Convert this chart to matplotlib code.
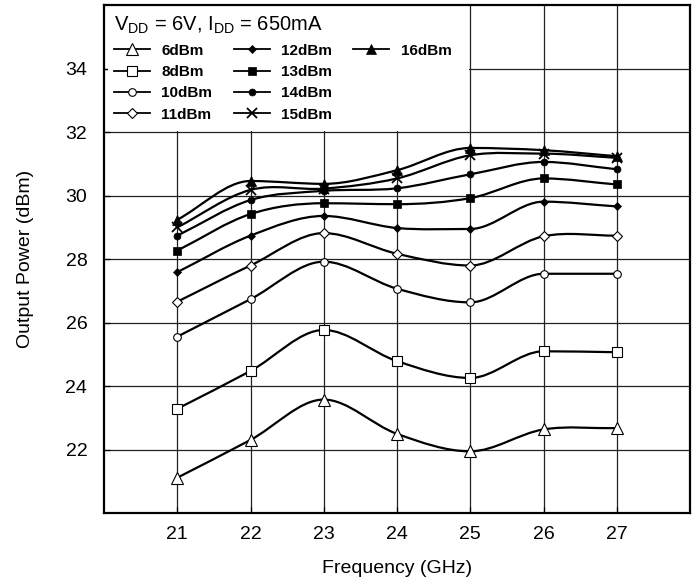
import matplotlib
matplotlib.use('Agg')
import matplotlib.pyplot as plt
import numpy as np
from matplotlib.lines import Line2D
from matplotlib.patches import Rectangle, PathPatch
from matplotlib.path import Path

plt.rcParams['font.family'] = ['Liberation Sans', 'DejaVu Sans']
plt.rcParams['mathtext.fontset'] = 'custom'
plt.rcParams['mathtext.rm'] = 'Liberation Sans'

freq = [21, 22, 23, 24, 25, 26, 27]

p6 = [21.12, 22.31, 23.58, 22.50, 21.95, 22.64, 22.68]
p8 = [23.29, 24.48, 25.77, 24.79, 24.26, 25.10, 25.07]
p10 = [25.56, 26.74, 27.92, 27.07, 26.64, 27.54, 27.54]
p11 = [26.66, 27.80, 28.82, 28.17, 27.80, 28.72, 28.74]
p12 = [27.59, 28.74, 29.36, 28.98, 28.95, 29.81, 29.66]
p13 = [28.27, 29.42, 29.76, 29.73, 29.92, 30.54, 30.35]
p14 = [28.74, 29.86, 30.15, 30.23, 30.67, 31.06, 30.83]
p15 = [29.00, 30.18, 30.22, 30.54, 31.27, 31.32, 31.19]
p16 = [29.24, 30.46, 30.37, 30.80, 31.50, 31.43, 31.24]

series = [
    ('6dBm', p6, dict(marker='^', ms=8.5, mfc='white', mec='black', mew=0.8)),
    ('8dBm', p8, dict(marker='s', ms=6.5, mfc='white', mec='black', mew=0.8)),
    ('10dBm', p10, dict(marker='o', ms=5.5, mfc='white', mec='black', mew=0.8)),
    ('11dBm', p11, dict(marker='D', ms=5.5, mfc='white', mec='black', mew=0.8)),
    ('12dBm', p12, dict(marker='D', ms=4.5, mfc='black', mec='black', mew=0.5)),
    ('13dBm', p13, dict(marker='s', ms=6, mfc='black', mec='black', mew=0.5)),
    ('14dBm', p14, dict(marker='o', ms=5, mfc='black', mec='black', mew=0.5)),
    ('15dBm', p15, dict(marker='x', ms=7, mfc='black', mec='black', mew=1.3)),
    ('16dBm', p16, dict(marker='^', ms=7.5, mfc='black', mec='black', mew=0.5)),
]


def smooth_path(x, y):
    # cubic bezier through the points, flat tangent at local extremes
    x = np.asarray(x, float)
    y = np.asarray(y, float)
    n = len(x)
    sec = np.diff(y) / np.diff(x)
    m = np.zeros(n)
    m[0] = sec[0]
    m[-1] = sec[-1]
    for i in range(1, n - 1):
        if sec[i - 1] * sec[i] <= 0:
            m[i] = 0
        else:
            m[i] = (sec[i - 1] + sec[i]) / 2
    verts = [(x[0], y[0])]
    codes = [Path.MOVETO]
    for i in range(n - 1):
        h = x[i + 1] - x[i]
        verts += [(x[i] + h / 3, y[i] + m[i] * h / 3),
                  (x[i + 1] - h / 3, y[i + 1] - m[i + 1] * h / 3),
                  (x[i + 1], y[i + 1])]
        codes += [Path.CURVE4] * 3
    return Path(verts, codes)


fig = plt.figure(figsize=(6.95, 5.86), dpi=100)
ax = fig.add_axes([104 / 695, 1 - 513.3 / 586, 586 / 695, 508.3 / 586])

ax.set_xlim(20, 28)
ax.set_ylim(20, 36)
ax.set_xticks(freq)
ax.set_yticks([22, 24, 26, 28, 30, 32, 34])
ax.grid(True, color='#222222', linewidth=0.9, zorder=1)
ax.set_axisbelow(True)

# white area behind the legend (leaves a stub of the 34 line as a tick)
ax.add_patch(Rectangle((20.06, 32.03), 4.925, 4, facecolor='white',
                       edgecolor='none', zorder=1.5))

handles = []
for name, vals, st in series:
    ax.add_patch(PathPatch(smooth_path(freq, vals), fill=False,
                           edgecolor='black', linewidth=1.6, zorder=3))
    ax.plot(freq, vals, linestyle='none', zorder=4, **st)
    handles.append(Line2D([], [], color='black', linewidth=1.3, **st))

for s in ax.spines.values():
    s.set_linewidth(1.6)

ax.tick_params(direction='in', length=4, width=0.9, labelsize=14)
ax.tick_params(axis='y', pad=12)
ax.tick_params(axis='x', pad=9)

ax.set_xlabel('Frequency (GHz)', fontsize=14)
ax.set_ylabel('Output Power (dBm)', fontsize=14)
ax.xaxis.set_label_coords(0.5, -0.092)
ax.yaxis.set_label_coords(-0.12, 0.5)

blank = Line2D([], [], linestyle='none', marker='none')
leg_handles = handles[0:4] + handles[4:8] + [handles[8], blank, blank, blank]
leg_labels = ['6dBm', '8dBm', '10dBm', '11dBm',
              '12dBm', '13dBm', '14dBm', '15dBm',
              '16dBm', '', '', '']
leg = ax.legend(leg_handles, leg_labels, ncol=3, loc='upper left',
                bbox_to_anchor=(0.0, 1.0), borderaxespad=0.25,
                frameon=False, prop={'weight': 'bold', 'size': 11},
                title=r'$\mathregular{V_{DD}}$ = 6V, $\mathregular{I_{DD}}$ = 650mA',
                title_fontproperties={'size': 14.5},
                alignment='left', handlelength=2.35, handletextpad=0.75,
                columnspacing=1.4, labelspacing=0.48)
leg.set_zorder(5)

fig.savefig('out.png', dpi=100)
